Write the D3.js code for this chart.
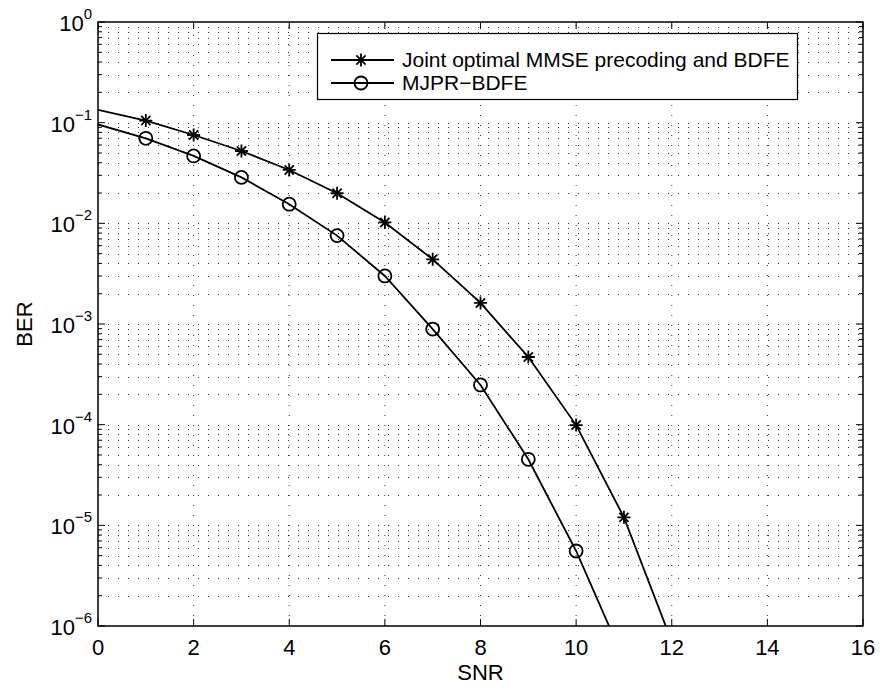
<!DOCTYPE html>
<html>
<head>
<meta charset="utf-8">
<script src="https://cdn.jsdelivr.net/npm/d3@7"></script>
<style>
  body { margin: 0; background: #fff; }
  svg { display: block; font-family: "Liberation Sans", Arial, sans-serif; }
</style>
</head>
<body>
<svg id="chart" width="880" height="688"></svg>
<script>
// dados
const snrLine = [0, 1, 2, 3, 4, 5, 6, 7, 8, 9, 10, 11, 12];
const berJoint = [0.134, 0.105, 0.0754, 0.0523, 0.0339, 0.0199, 0.0102, 0.00439, 0.00162, 4.7e-4, 9.9e-5, 1.2e-5, 7.0e-7];
const snrMjpr = [0, 1, 2, 3, 4, 5, 6, 7, 8, 9, 10, 11];
const berMjpr = [0.096, 0.0699, 0.0467, 0.0286, 0.0155, 0.00755, 0.0030, 8.9e-4, 2.48e-4, 4.53e-5, 5.56e-6, 4.6e-7];
const jointMarkers = [1, 2, 3, 4, 5, 6, 7, 8, 9, 10, 11];
const mjprMarkers = [1, 2, 3, 4, 5, 6, 7, 8, 9, 10];
const xTicks = [0, 2, 4, 6, 8, 10, 12, 14, 16];
const yExps = [0, -1, -2, -3, -4, -5, -6];
const legendNames = ['Joint optimal MMSE precoding and BDFE', 'MJPR\u2212BDFE'];

const M = { left: 98, top: 22, right: 863, bottom: 626 };
const svg = d3.select('#chart');

const x = d3.scaleLinear().domain([0, 16]).range([M.left, M.right]);
const y = d3.scaleLog().domain([1e-6, 1]).range([M.bottom, M.top]);

// ticks menores do eixo log
const minorY = [];
for (let e = -6; e < 0; e++) {
  for (let k = 2; k <= 9; k++) minorY.push(k * Math.pow(10, e));
}

// grade pontilhada
const grid = svg.append('g').attr('class', 'grid')
  .attr('stroke', '#333').attr('stroke-width', 1).attr('stroke-dasharray', '1,9');

grid.selectAll('.gx').data(xTicks.slice(1, -1)).enter().append('line')
  .attr('x1', d => x(d)).attr('x2', d => x(d))
  .attr('y1', M.bottom).attr('y2', M.top);

grid.selectAll('.gy').data(yExps.slice(1, -1).map(e => Math.pow(10, e)).concat(minorY)).enter().append('line')
  .attr('x1', M.left).attr('x2', M.right)
  .attr('y1', d => Math.round(y(d)) + 0.5).attr('y2', d => Math.round(y(d)) + 0.5);

// linhas dos dados
svg.append('clipPath').attr('id', 'clip').append('rect')
  .attr('x', M.left).attr('y', M.top).attr('width', M.right - M.left).attr('height', M.bottom - M.top);

const line = d3.line().x(d => x(d[0])).y(d => y(d[1]));
const plot = svg.append('g').attr('clip-path', 'url(#clip)');

plot.append('path').datum(snrLine.map((s, i) => [s, berJoint[i]]))
  .attr('d', line).attr('fill', 'none').attr('stroke', '#000').attr('stroke-width', 1.8);
plot.append('path').datum(snrMjpr.map((s, i) => [s, berMjpr[i]]))
  .attr('d', line).attr('fill', 'none').attr('stroke', '#000').attr('stroke-width', 1.8);

const starPath = (r) => {
  let p = '';
  for (let a = 0; a < 4; a++) {
    const t = a * Math.PI / 4;
    p += `M${-r * Math.cos(t)},${-r * Math.sin(t)}L${r * Math.cos(t)},${r * Math.sin(t)}`;
  }
  return p;
};

const drawStar = (g, px, py) => g.append('path')
  .attr('d', starPath(6.5)).attr('transform', `translate(${px},${py})`)
  .attr('stroke', '#000').attr('stroke-width', 1.8).attr('fill', 'none');
const drawCircle = (g, px, py) => g.append('circle')
  .attr('cx', px).attr('cy', py).attr('r', 6.5)
  .attr('stroke', '#000').attr('stroke-width', 1.8).attr('fill', 'none');

jointMarkers.forEach(s => drawStar(plot, x(s), y(berJoint[snrLine.indexOf(s)])));
mjprMarkers.forEach(s => drawCircle(plot, x(s), y(berMjpr[snrMjpr.indexOf(s)])));

// eixos com ticks para dentro
const axisG = svg.append('g').attr('stroke', '#000').attr('stroke-width', 1);
xTicks.forEach(t => {
  axisG.append('line').attr('x1', x(t)).attr('x2', x(t)).attr('y1', M.bottom).attr('y2', M.bottom - 7);
  axisG.append('line').attr('x1', x(t)).attr('x2', x(t)).attr('y1', M.top).attr('y2', M.top + 7);
});
yExps.forEach(e => {
  const py = y(Math.pow(10, e));
  axisG.append('line').attr('x1', M.left).attr('x2', M.left + 7).attr('y1', py).attr('y2', py);
  axisG.append('line').attr('x1', M.right).attr('x2', M.right - 7).attr('y1', py).attr('y2', py);
});
minorY.forEach(v => {
  const py = y(v);
  axisG.append('line').attr('x1', M.left).attr('x2', M.left + 4).attr('y1', py).attr('y2', py);
  axisG.append('line').attr('x1', M.right).attr('x2', M.right - 4).attr('y1', py).attr('y2', py);
});
svg.append('rect').attr('x', M.left).attr('y', M.top)
  .attr('width', M.right - M.left).attr('height', M.bottom - M.top)
  .attr('fill', 'none').attr('stroke', '#000').attr('stroke-width', 1.5);

// rotulos dos ticks
svg.selectAll('.xl').data(xTicks).enter().append('text')
  .attr('x', d => x(d)).attr('y', M.bottom + 29)
  .attr('text-anchor', 'middle').attr('font-size', 22).text(d => d);

yExps.forEach(e => {
  const t = svg.append('text').attr('x', 92).attr('y', y(Math.pow(10, e)) + 9)
    .attr('text-anchor', 'end').attr('font-size', 22);
  t.append('tspan').text('10');
  t.append('tspan').attr('dy', -12).attr('font-size', 15).text(e === 0 ? '0' : '\u2212' + (-e));
});

svg.append('text').attr('x', (M.left + M.right) / 2).attr('y', 680)
  .attr('text-anchor', 'middle').attr('font-size', 22).text('SNR');
svg.append('text').attr('transform', `translate(32,${(M.top + M.bottom) / 2}) rotate(-90)`)
  .attr('text-anchor', 'middle').attr('font-size', 22).text('BER');

// legenda
const leg = svg.append('g');
leg.append('rect').attr('x', 317.5).attr('y', 33.5).attr('width', 480).attr('height', 66)
  .attr('fill', '#fff').attr('stroke', '#000').attr('stroke-width', 1.2);
const rows = [60, 83];
legendNames.forEach((name, i) => {
  leg.append('line').attr('x1', 331).attr('x2', 394).attr('y1', rows[i]).attr('y2', rows[i])
    .attr('stroke', '#000').attr('stroke-width', 1.8);
  if (i === 0) drawStar(leg, 361, rows[i]); else drawCircle(leg, 361, rows[i]);
  leg.append('text').attr('x', 402).attr('y', rows[i] + 7).attr('font-size', 21).text(name);
});
</script>
</body>
</html>
